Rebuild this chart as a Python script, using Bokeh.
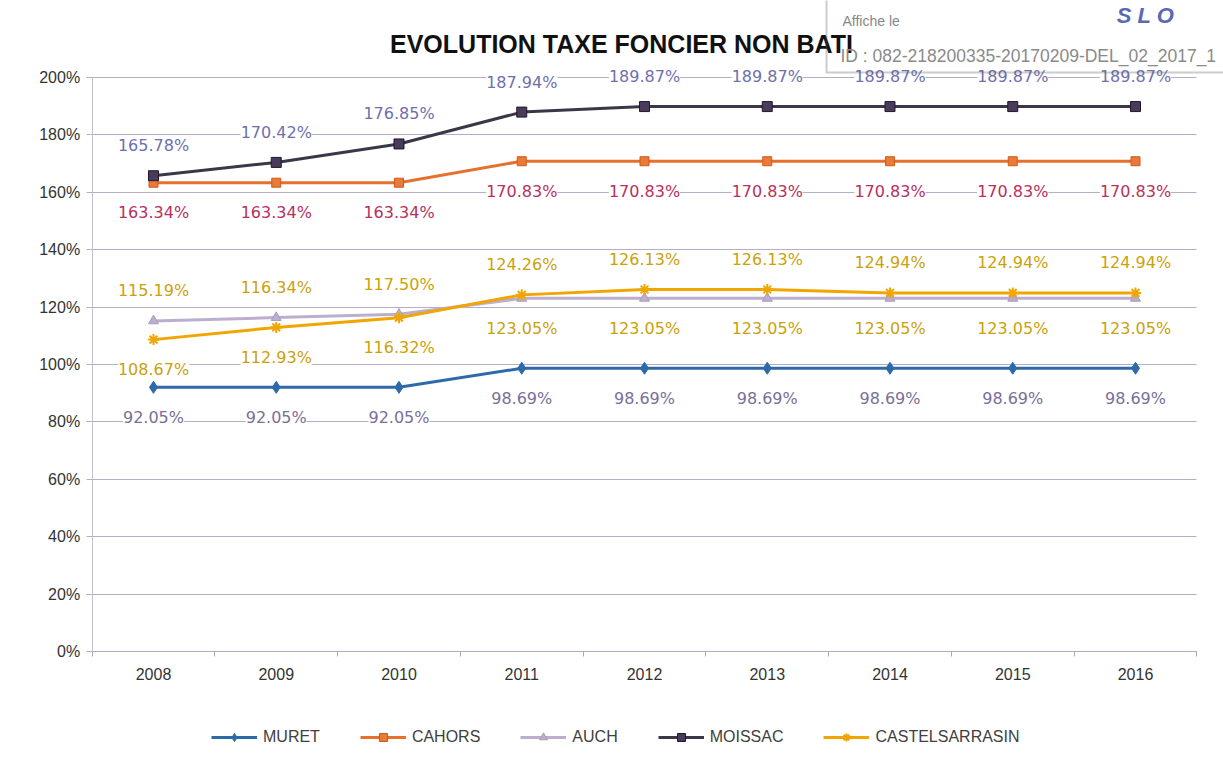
from bokeh.plotting import figure
from bokeh.models import (Range1d, FixedTicker, LabelSet, ColumnDataSource, Legend,
                          LegendItem, Label, BoxAnnotation)
from bokeh.core.properties import value
from bokeh.embed import file_html
from bokeh.resources import INLINE

YEARS = ["2008", "2009", "2010", "2011", "2012", "2013", "2014", "2015", "2016"]
MURET = [92.05, 92.05, 92.05, 98.69, 98.69, 98.69, 98.69, 98.69, 98.69]
CAHORS = [163.34, 163.34, 163.34, 170.83, 170.83, 170.83, 170.83, 170.83, 170.83]
AUCH = [115.19, 116.34, 117.50, 123.05, 123.05, 123.05, 123.05, 123.05, 123.05]
MOISSAC = [165.78, 170.42, 176.85, 187.94, 189.87, 189.87, 189.87, 189.87, 189.87]
CASTEL = [108.67, 112.93, 116.32, 124.26, 126.13, 126.13, 124.94, 124.94, 124.94]
Y_TICKS = [0, 20, 40, 60, 80, 100, 120, 140, 160, 180, 200]

TITLE = "EVOLUTION TAXE FONCIER NON BATI"
STAMP_1 = "Affiche le"
STAMP_2 = "ID : 082-218200335-20170209-DEL_02_2017_1"
STAMP_LOGO = "S L O"
AX_FONT = "Liberation Sans"
LBL_FONT = "DejaVu Sans"

W, H = 1223, 764
# frame covers the whole canvas; the visible plot area is 0..200 % and -0.5..8.5
p = figure(width=W, height=H, output_backend="svg", toolbar_location=None,
           x_range=Range1d(-1.2464, 8.7169), y_range=Range1d(-39.373, 226.83),
           min_border_left=0, min_border_right=0, min_border_top=0, min_border_bottom=0)
p.outline_line_color = None
p.background_fill_color = "white"
p.border_fill_color = "white"

xs = list(range(len(YEARS)))
n = len(YEARS)

# axes placed inside the frame
p.xaxis.fixed_location = 0
p.xaxis.bounds = (-0.5, n - 0.5)
p.xaxis.ticker = FixedTicker(ticks=xs, minor_ticks=[i - 0.5 for i in range(n + 1)])
p.xaxis.major_label_overrides = {i: y for i, y in enumerate(YEARS)}
p.xaxis.major_tick_out = 0
p.xaxis.major_tick_in = 0
p.xaxis.minor_tick_out = 5
p.xaxis.minor_tick_in = 0
p.xaxis.minor_tick_line_color = "#a8a8b8"
p.xaxis.axis_line_color = "#b0aac6"
p.xaxis.major_label_standoff = 12

p.yaxis.fixed_location = -0.5
p.yaxis.bounds = (0, 200)
p.yaxis.ticker = FixedTicker(ticks=Y_TICKS, minor_ticks=[])
p.yaxis.major_label_overrides = {v: f"{v}%" for v in Y_TICKS}
p.yaxis.major_tick_out = 6
p.yaxis.major_tick_in = 0
p.yaxis.major_tick_line_color = "#b0b0c0"
p.yaxis.axis_line_color = "#c0c0cc"
p.yaxis.major_label_standoff = 6

for ax in (p.xaxis, p.yaxis):
    ax.major_label_text_font = AX_FONT
    ax.major_label_text_font_size = "16px"
    ax.major_label_text_color = "#333333"

p.xgrid.visible = False
p.ygrid.ticker = FixedTicker(ticks=Y_TICKS, minor_ticks=[])
p.ygrid.cross_bounds = (-0.5, n - 0.5)
p.ygrid.grid_line_color = "#b4aecb"
p.ygrid.grid_line_width = 1

series = [
    ("MURET", MURET, "#2e6aa8", "diamond", 12, "#2e6aa8", "#2e6aa8", "#7a6f98"),
    ("CAHORS", CAHORS, "#e6702c", "square", 9, "#ea7a3a", "#d05a18", "#b8305e"),
    ("AUCH", AUCH, "#bcaecf", "triangle", 10, "#bcaecf", "#aa9cc0", "#c9a20a"),
    ("MOISSAC", MOISSAC, "#3a3848", "square", 10, "#4a3a5c", "#1f1a26", "#6e6fae"),
    ("CASTELSARRASIN", CASTEL, "#f0a500", "asterisk", 11, "#f0a500", "#f0a500", "#c9a20a"),
]


def dirs(name, vals):
    """+1: label above the point, -1: below."""
    if name == "MOISSAC":
        return [1] * len(vals)
    if name in ("MURET", "CAHORS"):
        return [-1] * len(vals)
    other = CASTEL if name == "AUCH" else AUCH
    return [1 if v >= o else -1 for v, o in zip(vals, other)]


items = []
for name, vals, lc, marker, msize, mfill, mline, tcol in series:
    src = ColumnDataSource(dict(x=xs, y=vals,
                                txt=[f"{v:.2f}%" for v in vals],
                                off=[30 * d for d in dirs(name, vals)]))
    lr = p.line("x", "y", source=src, line_color=lc, line_width=3)
    sr = p.scatter("x", "y", source=src, marker=marker, size=msize,
                   fill_color=mfill, line_color=mline,
                   line_width=2 if marker == "asterisk" else 1)
    items.append(LegendItem(label=name, renderers=[lr, sr]))
    ls = LabelSet(x="x", y="y", text="txt", source=src, y_offset="off",
                  text_align="center", text_baseline="middle",
                  text_font=value(LBL_FONT), text_font_size="16px", text_color=tcol,
                  background_fill_color="white")
    p.add_layout(ls)

legend = Legend(items=items, orientation="horizontal", location=(211, 17),
                glyph_width=46, glyph_height=20, label_standoff=6, spacing=40,
                padding=5, border_line_color=None, background_fill_alpha=0,
                label_text_font=AX_FONT, label_text_font_size="16px",
                label_text_color="#404040")
p.add_layout(legend, "center")

# title
p.add_layout(Label(x=621, y=H - 43, x_units="screen", y_units="screen", text=TITLE,
                   text_align="center", text_baseline="middle",
                   text_font=AX_FONT, text_font_style="bold",
                   text_font_size="25px", text_color="#111111"))

# stamp
p.add_layout(BoxAnnotation(left=826, right=W + 50, top=H + 20, bottom=H - 72,
                           left_units="screen", right_units="screen",
                           top_units="screen", bottom_units="screen",
                           fill_alpha=0, line_color="#555555", line_width=2))
p.add_layout(Label(x=842, y=H - 20, x_units="screen", y_units="screen", text=STAMP_1,
                   text_align="left", text_baseline="middle", text_font=AX_FONT,
                   text_font_size="14px", text_color="#888888"))
p.add_layout(Label(x=840, y=H - 55, x_units="screen", y_units="screen", text=STAMP_2,
                   text_align="left", text_baseline="middle", text_font=AX_FONT,
                   text_font_size="17.5px", text_color="#8a8a8a"))
p.add_layout(Label(x=1145, y=H - 15, x_units="screen", y_units="screen", text=STAMP_LOGO,
                   text_align="center", text_baseline="middle", text_font=AX_FONT,
                   text_font_style="bold italic", text_font_size="22px",
                   text_color="#5a6ab0"))

open("out.html", "w").write(file_html(p, INLINE))
